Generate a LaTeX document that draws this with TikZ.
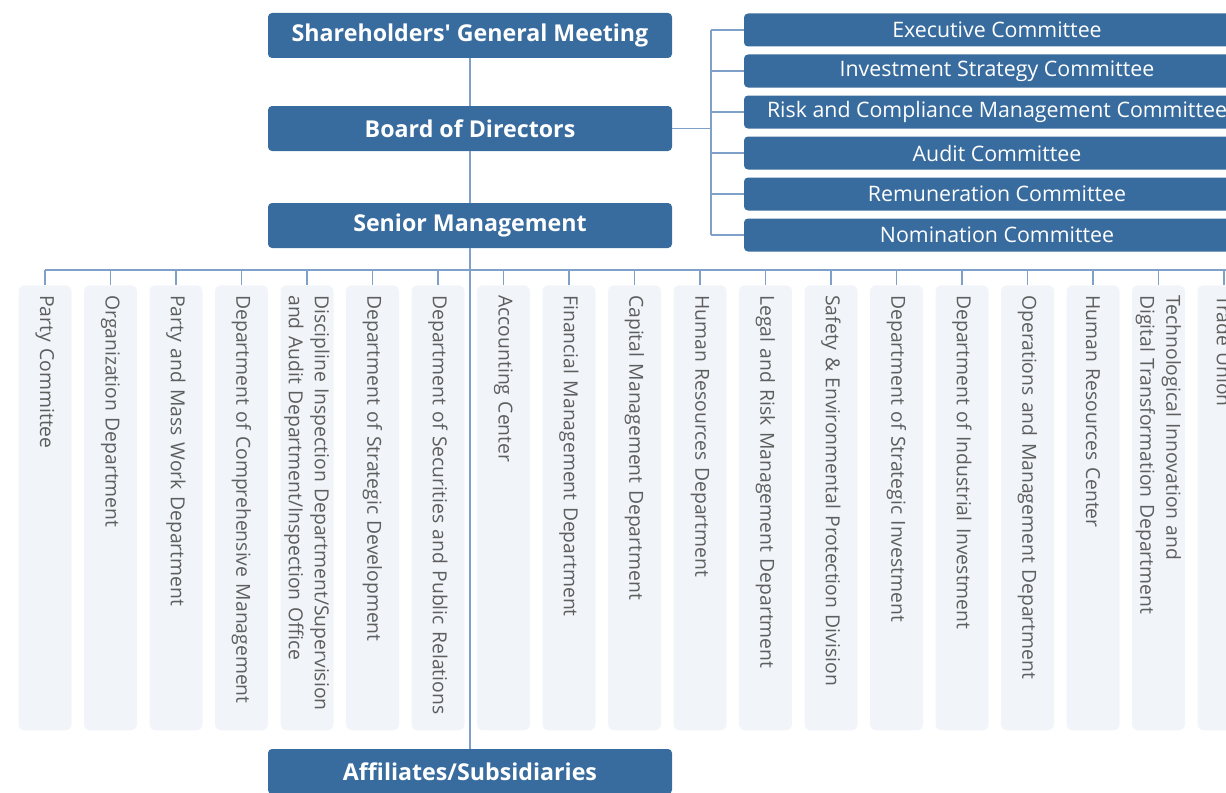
\documentclass[tikz,border=0pt]{standalone}
\usepackage{fontspec}
\setmainfont{Open Sans}
\newfontfamily\openraw{Open Sans}
\usetikzlibrary{positioning}
\definecolor{boxblue}{HTML}{396C9E}
\definecolor{linkblue}{HTML}{7FA0C8}
\definecolor{colfill}{HTML}{F1F4F8}
\definecolor{coltext}{HTML}{5E5E5E}

\begin{document}
\begin{tikzpicture}[x=0.75pt, y=-0.75pt,
    topbox/.style={fill=boxblue, rounded corners=3pt, text=white, inner sep=0pt,
        minimum width=303pt, minimum height=33.75pt, font=\fontsize{17.4}{20}\selectfont\bfseries},
    combox/.style={fill=boxblue, rounded corners=3pt, text=white, inner sep=0pt,
        minimum width=379.5pt, minimum height=24.75pt, font=\fontsize{16}{19}\selectfont},
    deptbox/.style={fill=colfill, rounded corners=4.5pt, text=coltext, rotate=-90, anchor=west,
        minimum width=333.75pt, minimum height=39.75pt, inner xsep=7.5pt, inner ysep=0pt,
        text width=318.75pt, align=left, font=\fontsize{14.5}{19.5}\selectfont},
    link/.style={draw=linkblue, line width=0.9pt}]
    \useasboundingbox (0,0) rectangle (1226,792);
    \clip (0,0) rectangle (1226,792);
    % main chain
    \node[topbox] (sgm) at (470,35.5) {Shareholders{\openraw\bfseries'} General Meeting};
    \node[topbox] (bod) at (470,128.5) {Board of Directors};
    \node[topbox] (sm) at (470,225.5) {Senior Management};
    \node[topbox] (aff) at (470,771.5) {Affiliates/Subsidiaries};
    % committees of the board
    \foreach \t [count=\i] in {Executive Committee, Investment Strategy Committee,
        Risk and Compliance Management Committee, Audit Committee,
        Remuneration Committee, Nomination Committee} {
        \node[combox] (com\i) at (997,{30+(\i-1)*41}) {\t};
    }
    \coordinate (brk) at (711,0);
    \draw[link] (bod.east) -- (brk |- bod.east);
    \draw[link] (brk |- com1.west) -- (brk |- com6.west);
    \foreach \i in {1,...,6} {
        \draw[link] (brk |- com\i.west) -- (com\i.west);
    }
    % departments
    \coordinate (busL) at (45,270);
    \coordinate (busR) at (1240,270);
    \foreach \t [count=\i] in {Party Committee, Organization Department,
        Party and Mass Work Department, Department of Comprehensive Management,
        {Discipline Inspection Department/Supervision\\and Audit Department/Inspection Office},
        Department of Strategic Development, Department of Securities and Public Relations,
        Accounting Center, Financial Management Department, Capital Management Department,
        Human Resources Department, Legal and Risk Management Department,
        Safety \& Environmental Protection Division, Department of Strategic Investment,
        Department of Industrial Investment, Operations and Management Department,
        Human Resources Center, {Technological Innovation and\\Digital Transformation Department},
        Trade Union} {
        \node[deptbox] (d\i) at ({45+(\i-1)*65.5},285) {\t};
        \draw[link] (busL -| d\i.west) -- (d\i.west);
    }
    \draw[link] (busL) -- (busR);
    % trunk
    \draw[link] (sgm.south) -- (bod.north);
    \draw[link] (bod.south) -- (sm.north);
    \draw[link] (sm.south) -- (aff.north);
\end{tikzpicture}
\end{document}
